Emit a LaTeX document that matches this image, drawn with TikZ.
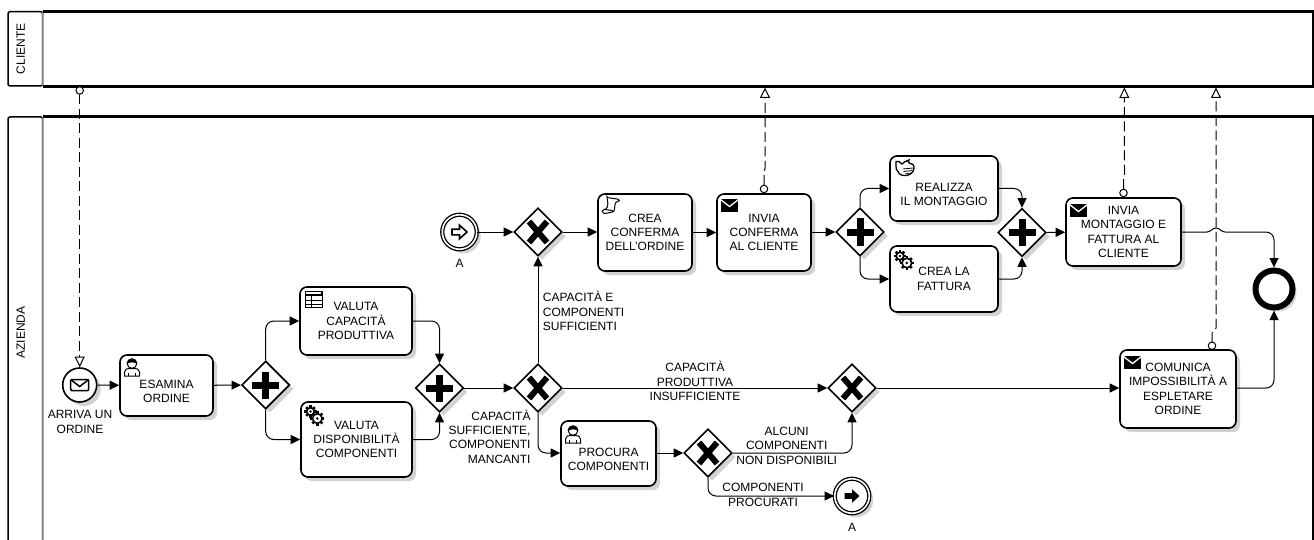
\documentclass[tikz,border=0pt]{standalone}
\usepackage{fontspec}
\setmainfont{Liberation Sans}
\usetikzlibrary{arrows.meta,shapes.geometric,shadows}
\definecolor{shadowgray}{HTML}{D2D2D2}
\newcommand{\lowline}{\rule{0pt}{9pt}\\[-3pt]}
\tikzset{
  dropgray/.style={drop shadow={shadow xshift=4pt,shadow yshift=-4pt,opacity=1,fill=shadowgray}},
  task/.style={draw,rectangle,rounded corners=7pt,line width=1.6pt,fill=white,align=center,inner sep=0pt,dropgray},
  gateway/.style={shape=diamond,draw,line width=1.6pt,fill=white,inner sep=0pt,minimum size=48pt,dropgray},
  gwplus/.style={gateway,path picture={
    \fill[black] (path picture bounding box.center) ++(-13.5,-3.5) rectangle ++(27,7);
    \fill[black] (path picture bounding box.center) ++(-3.5,-13.5) rectangle ++(7,27);}},
  gwx/.style={gateway,path picture={
    \draw[line width=6pt] (path picture bounding box.center) ++(-9,-10.5) -- ++(18,21);
    \draw[line width=6pt] (path picture bounding box.center) ++(9,-10.5) -- ++(-18,21);}},
  event/.style={draw,circle,line width=1.6pt,fill=white,inner sep=0pt,minimum size=34pt,dropgray},
  linkevent/.style={event,double,double distance=1.6pt,line width=1.3pt,minimum size=34.5pt},
  endevent/.style={event,line width=6pt,minimum size=37pt},
  flow/.style={-{Triangle[length=9.5pt,width=9pt]},line width=1pt,rounded corners=8pt},
  msgflow/.style={{Circle[open,length=8.5pt,width=8.5pt,line width=1pt,fill=white]}-{Triangle[open,length=10.5pt,width=10pt,line width=1pt,fill=white]},line width=1pt,dash pattern=on 10pt off 4.5pt},
  poolhead/.style={draw,rectangle,rounded corners=2pt,line width=1.5pt,inner sep=0pt},
  poolbody/.style={rectangle,inner sep=0pt},
  poolline/.style={line width=3pt},
  txt/.style={inner sep=0pt,align=center},
  envicon/.pic={
    \fill (0,0) rectangle (17,13);
    \draw[white,line width=1.3pt] (-0.5,0.5) -- (8.5,7.5) -- (17.5,0.5);},
  mailicon/.pic={
    \draw[line width=1.5pt,rounded corners=1pt] (-9,-5.5) rectangle (9,5.5);
    \draw[line width=1.5pt] (-8.5,-5) -- (0,1.5) -- (8.5,-5);},
  linkarrow/.pic={
    \path[pic actions] (-7.5,-2.8) -- (0,-2.8) -- (0,-6.8) -- (7.5,0) -- (0,6.8) -- (0,2.8) -- (-7.5,2.8) -- cycle;},
  usericon/.pic={
    \draw[line width=1pt,fill=white] (0.5,18) -- (0.5,14) .. controls (1,11) and (3,10.5) .. (5,10.5) -- (11,10.5) .. controls (13,10.5) and (15,11) .. (15.5,14) -- (15.5,18) -- cycle;
    \draw[line width=1pt] (4.5,18) -- (4.5,15) (11.5,18) -- (11.5,15);
    \draw[line width=1pt,fill=white] (8,5.5) circle[radius=4.8];
    \fill (2.8,6) .. controls (2.8,-0.5) and (13.2,-0.5) .. (13.2,6) .. controls (10,3.8) and (6,3.8) .. (2.8,6) -- cycle;},
  tableicon/.pic={
    \draw[line width=1pt,fill=white] (0,0) rectangle (17,16);
    \fill (0,0) rectangle (17,4.5);
    \fill[white] (1,1) rectangle (16,3);
    \draw[line width=1pt] (0,9.5) -- (17,9.5) (0,13) -- (17,13) (6,5) -- (6,16);},
  gearicon/.pic={
    \foreach \gx/\gy/\gr in {6/7/3.8,12.8/14/4.8} {
      \foreach \ga in {0,45,...,315}
        \draw[line width=2.5pt] (\gx,\gy) ++(\ga:\gr) -- ++(\ga:2.3);
      \draw[line width=1.6pt,fill=white] (\gx,\gy) circle[radius=\gr];
      \fill (\gx,\gy) circle[radius=1.4];
    }},
  scrollicon/.pic={
    \draw[line width=1pt,fill=white,rounded corners=1pt] (5,0.5) -- (15,2) .. controls (18,2.5) and (18,5) .. (14.5,4.5) .. controls (12,8) and (13.5,12) .. (11,15) -- (3,16.5) .. controls (-0.5,16) and (-0.5,12.5) .. (3,12.5) .. controls (7,10) and (5.5,4) .. (5,0.5) -- cycle;
    \draw[line width=1pt] (3,12.5) -- (10,13.5) .. controls (10.5,14.5) and (10.5,15) .. (11,15);},
  handicon/.pic={
    \draw[line width=1.3pt,fill=white] (1,2) .. controls (3,1) and (5,2.5) .. (7,4.5) .. controls (9,3) and (11,1) .. (14,0.5) .. controls (13,2) and (13,3.5) .. (15,4) .. controls (17,4) and (19,5) .. (19,7) .. controls (19.5,11) and (17,15) .. (12,16) .. controls (8,16.5) and (4,15.5) .. (3,12) .. controls (0.5,11) and (2,9) .. (1,7) .. controls (0.5,5) and (0.5,4) .. (1,2) -- cycle;
    \draw[line width=0.8pt] (8,9.5) -- (18,8.5) (8.5,12) -- (17.5,11) (10,14.5) -- (15.5,13.5);},
}
\begin{document}
\begin{tikzpicture}[x=1pt,y=-1pt,every node/.style={font=\fontsize{12}{14.3}\selectfont}]
\clip (0,0) rectangle (1314,540);
\node[poolbody, minimum width=1270.3pt, minimum height=74.3pt] (cliente) at (677.85,48.85) {};
\node[poolbody, minimum width=1270.3pt, minimum height=431pt] (azienda) at (677.85,332.5) {};
\node[poolhead, minimum width=34.7pt, minimum height=74.3pt] (clientehead) at (25.35,48.85) {\rotatebox{90}{CLIENTE}\rule{9pt}{0pt}};
\node[poolhead, minimum width=34.7pt, minimum height=431pt] (aziendahead) at (25.35,332.5) {\rotatebox{90}{AZIENDA}\rule{9pt}{0pt}};
\draw[gray,line width=1pt] (cliente.north west) -- (cliente.south west);
\draw[gray,line width=1pt] (azienda.north west) -- (azienda.south west);
\draw[poolline] (cliente.north west) -- (cliente.north east) -- (cliente.south east) -- (cliente.south west);
\draw[poolline] (azienda.north west) -- (azienda.north east) -- (azienda.south east) -- (azienda.south west);

\node[event] (arriva) at (79.7,385) {};
\node[task, minimum width=93pt, minimum height=61pt] (esamina) at (166.5,385.5) {\lowline ESAMINA\\ORDINE};
\node[gwplus] (gsplit) at (265.7,385) {};
\node[task, minimum width=112pt, minimum height=68pt] (capacita) at (356,321) {VALUTA\\CAPACITÀ\\PRODUTTIVA};
\node[task, minimum width=111pt, minimum height=75pt] (dispon) at (356.5,439.5) {VALUTA\\DISPONIBILITÀ\\COMPONENTI};
\node[gwplus] (gjoin) at (439.5,388) {};
\node[gwx] (gmid) at (538,388) {};
\node[gwx] (gtop) at (538,232) {};
\node[linkevent] (linkin) at (459.5,232) {};
\node[task, minimum width=94pt, minimum height=77pt] (creaconf) at (645,232.5) {CREA\\CONFERMA\\DELL'ORDINE};
\node[task, minimum width=94pt, minimum height=77pt] (inviaconf) at (764,232.5) {INVIA\\CONFERMA\\AL CLIENTE};
\node[gwplus] (gmont) at (860,232) {};
\node[task, minimum width=108pt, minimum height=65pt] (realizza) at (944,188.5) {\lowline REALIZZA\\IL MONTAGGIO};
\node[task, minimum width=108pt, minimum height=66pt] (fattura) at (944,279) {CREA LA\\FATTURA};
\node[gwplus] (gfine) at (1022,232.5) {};
\node[task, minimum width=115pt, minimum height=68pt] (inviamont) at (1123.5,232) {INVIA\\MONTAGGIO E\\FATTURA AL\\CLIENTE};
\node[endevent] (fine) at (1274,289) {};
\node[task, minimum width=95pt, minimum height=65pt] (procura) at (608.5,453.5) {\lowline PROCURA\\COMPONENTI};
\node[gwx] (gproc) at (708,453) {};
\node[gwx] (gimposs) at (852,388) {};
\node[linkevent] (linkout) at (852,496) {};
\node[task, minimum width=116pt, minimum height=78pt] (comunica) at (1178,389) {COMUNICA\\IMPOSSIBILITÀ A\\ESPLETARE\\ORDINE};

\node[txt] (larriva) at (80,422) {ARRIVA UN\\ORDINE};
\node[txt] (lina) at (459.5,263) {A};
\node[txt] (louta) at (852,527) {A};
\node[txt, anchor=west, align=left] (lsuff) at (542.7,311) {CAPACITÀ E\\COMPONENTI\\SUFFICIENTI};
\node[txt, anchor=east, align=right] (lmanc) at (530.7,436.5) {CAPACITÀ\\SUFFICIENTE,\\COMPONENTI\\MANCANTI};
\node[txt] (linsuff) at (695,381) {CAPACITÀ\\PRODUTTIVA\\INSUFFICIENTE};
\node[txt] (lnond) at (786.7,445.7) {ALCUNI\\COMPONENTI\\NON DISPONIBILI};
\node[txt] (lproc) at (763,495) {COMPONENTI\\PROCURATI};

\pic at (arriva) {mailicon};
\pic[draw,fill=white,line width=1.6pt] at (linkin) {linkarrow};
\pic[fill=black] at (linkout) {linkarrow};
\pic at (124,358) {usericon};
\pic at (565,425) {usericon};
\pic at (305,291) {tableicon};
\pic at (304.5,404.5) {gearicon};
\pic at (894,249) {gearicon};
\pic at (602,197) {scrollicon};
\pic at (895,159.5) {handicon};
\pic at (721,199) {envicon};
\pic at (1070,204) {envicon};
\pic at (1124,356) {envicon};

\draw[flow] (arriva) -- (esamina);
\draw[flow] (esamina) -- (gsplit);
\draw[flow] (gsplit.north) |- (capacita.west);
\draw[flow] (gsplit.south) |- (dispon.west);
\draw[flow] (capacita.east) -| (gjoin.north);
\draw[flow] (dispon.east) -| (gjoin.south);
\draw[flow] (gjoin) -- (gmid);
\draw[flow] (gmid) -- (gtop);
\draw[flow] (linkin) -- (gtop);
\draw[flow] (gtop) -- (creaconf.west |- gtop);
\draw[flow] (creaconf) -- (inviaconf);
\draw[flow] (inviaconf.east |- gmont) -- (gmont);
\draw[flow] (gmont.north) |- (realizza.west);
\draw[flow] (gmont.south) |- (fattura.west);
\draw[flow] (realizza.east) -| (gfine.north);
\draw[flow] (fattura.east) -| (gfine.south);
\draw[flow] (gfine) -- (inviamont);
\coordinate (jumpin) at (1207,232);
\coordinate (jumpout) at (1225,232);
\draw[line width=1pt] (inviamont.east) -- (jumpin) .. controls (1211,232) and (1212,228) .. (1216,228) .. controls (1220,228) and (1221,232) .. (jumpout);
\draw[flow] (jumpout) -| (fine.north);
\draw[flow] (gmid) -- (gimposs);
\draw[flow] (gimposs) -- (comunica.west |- gimposs);
\draw[flow] (comunica.east |- gimposs) -| (fine.south);
\draw[flow] (gmid.south) |- (procura.west |- gproc);
\draw[flow] (procura.east |- gproc) -- (gproc);
\draw[flow] (gproc.east) -| (gimposs.south);
\draw[flow] (gproc.south) |- (linkout.west);

\coordinate (confmsg) at (765,87.5);
\coordinate (montmsg) at (1124.3,87.5);
\coordinate (impomsg) at (1216,87.5);
\coordinate (impotop) at (1212,350);
\draw[msgflow] (cliente.south west -| arriva.north) -- (arriva.north);
\draw[msgflow] (inviaconf.north) -- ++(0,-20) -- ++(1,-5) -- (confmsg);
\draw[msgflow] (inviamont.north) -- ++(0,-18) -- ++(1,-5) -- (montmsg);
\draw[msgflow] (impotop) -- ++(0,-17) -- ++(4,-5) -- (impomsg);
\end{tikzpicture}
\end{document}
